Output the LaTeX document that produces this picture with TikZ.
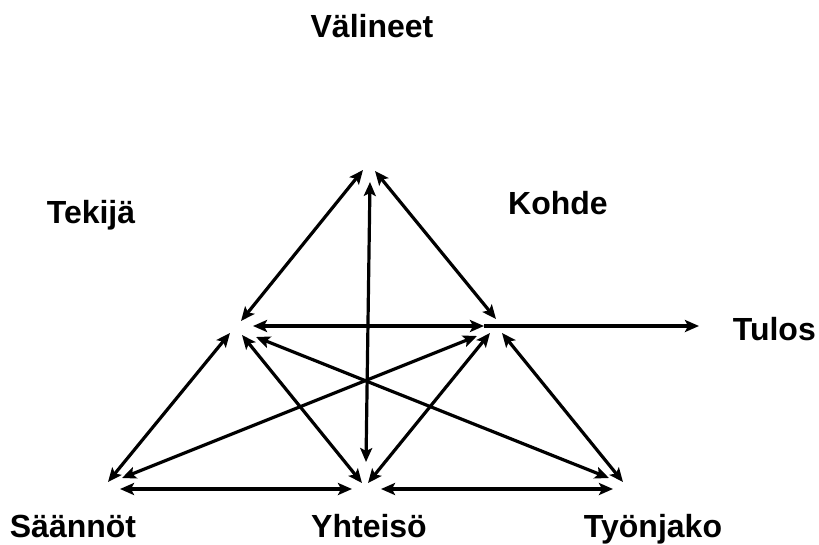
\documentclass[tikz,border=0pt]{standalone}
\usepackage{fontspec}
\setmainfont{Liberation Sans}
\usetikzlibrary{arrows.meta}
\begin{document}
\begin{tikzpicture}[x=1pt,y=-1pt,
  lbl/.style={font=\fontsize{32}{38}\selectfont\bfseries, inner sep=0pt, anchor=base},
  conn/.style={line width=3.2pt, {Stealth[length=14pt,width=12pt,inset=3pt]}-{Stealth[length=14pt,width=12pt,inset=3pt]}},
  oneway/.style={line width=3.2pt, -{Stealth[length=14pt,width=12pt,inset=3pt]}}]
\useasboundingbox[fill=white] (0,0) rectangle (819,544);
% labels
\node[lbl] (valineet) at (372,37) {Välineet};
\node[lbl] (tekija) at (91,223) {Tekijä};
\node[lbl] (kohde) at (558,214) {Kohde};
\node[lbl, anchor=base east] (tulos) at (816,340) {Tulos};
\node[lbl] (saannot) at (73,537) {Säännöt};
\node[lbl] (yhteiso) at (369,537) {Yhteisö};
\node[lbl] (tyonjako) at (653,537) {Työnjako};
% endpoints
\coordinate (tA) at (363,170); \coordinate (lA) at (241,321);
\coordinate (tB) at (375,171); \coordinate (rB) at (496,319);
\coordinate (tC) at (370,182); \coordinate (bcC) at (366,462);
\coordinate (lD) at (253,326); \coordinate (rD) at (484,326);
\coordinate (tulosE) at (699,326);
\coordinate (lF) at (230,333); \coordinate (blF) at (108,482);
\coordinate (lG) at (242,335); \coordinate (bcG) at (362,483);
\coordinate (lH) at (256,337); \coordinate (brH) at (609,478);
\coordinate (rI) at (477,336); \coordinate (blI) at (122,478);
\coordinate (rJ) at (490,333); \coordinate (bcJ) at (368,483);
\coordinate (rK) at (502,333); \coordinate (brK) at (623,482);
\coordinate (blL) at (120,489); \coordinate (bcL) at (352,489);
\coordinate (bcM) at (381,489); \coordinate (brM) at (613,489);
% connectors
\draw[conn] (tA) -- (lA);
\draw[conn] (tB) -- (rB);
\draw[conn] (tC) -- (bcC);
\draw[conn] (lD) -- (rD);
\draw[oneway] (rD) -- (tulosE);
\draw[conn] (lF) -- (blF);
\draw[conn] (lG) -- (bcG);
\draw[conn] (lH) -- (brH);
\draw[conn] (rI) -- (blI);
\draw[conn] (rJ) -- (bcJ);
\draw[conn] (rK) -- (brK);
\draw[conn] (blL) -- (bcL);
\draw[conn] (bcM) -- (brM);
\end{tikzpicture}
\end{document}
